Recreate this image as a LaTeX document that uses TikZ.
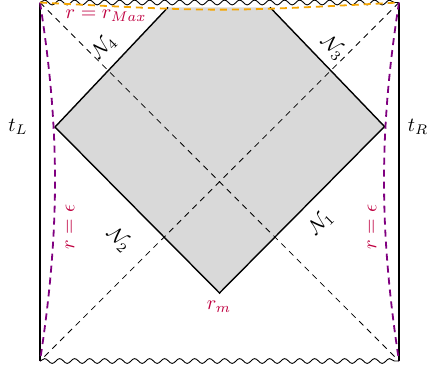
\documentclass[tikz,border=0pt]{standalone}
\usetikzlibrary{decorations.pathmorphing}
\definecolor{lblc}{rgb}{0.75,0,0.25}
\definecolor{curvc}{rgb}{0.5,0,0.5}
\definecolor{orng}{RGB}{245,165,0}
\begin{document}
\begin{tikzpicture}[x=0.5pt,y=-0.5pt,
  edge/.style={line width=0.7pt, black},
  wall/.style={line width=0.8pt, black},
  diag/.style={line width=0.4pt, dash pattern=on 3pt off 2.5pt},
  bdry/.style={line width=0.9pt, curvc, dash pattern=on 3.5pt off 2.5pt},
  topb/.style={line width=0.9pt, orng, dash pattern=on 3.5pt off 2.5pt},
  sing/.style={line width=0.45pt, decorate, decoration={snake, segment length=7.5pt, amplitude=1.2pt}},
  lbl/.style={text=lblc, inner sep=1pt},
  nlbl/.style={inner sep=1pt},
]
\useasboundingbox (0,0) rectangle (428,372);
\coordinate (TL) at (40,2.5);
\coordinate (TR) at (399,2.5);
\coordinate (BL) at (40,361);
\coordinate (BR) at (399,361);
\coordinate (L) at (55,127);
\coordinate (B) at (219.5,293);
\coordinate (R) at (384.5,126.5);
\coordinate (UL) at (168,7.3);
\coordinate (UR) at (270,7.3);
% shaded region
\fill[gray!30] (UL) -- (L) -- (B) -- (R) -- (UR) -- cycle;
% diagonals
\draw[diag] (TL) -- (BR);
\draw[diag] (TR) -- (BL);
% edges of region
\draw[edge] (UL) -- (L) -- (B) -- (R) -- (UR);
% boundaries
\draw[wall] (TL) -- (BL);
\draw[wall] (TR) -- (BR);
\draw[sing] (TL) -- (TR);
\draw[sing] (BL) -- (BR);
\draw[bdry] (TL) .. controls (60,130) and (60,230) .. (BL);
\draw[bdry] (TR) .. controls (379,130) and (379,230) .. (BR);
\draw[topb] (TL) .. controls (219.5,12) .. (TR);
% labels
\node[nlbl] (tl) at (18,127) {$t_L$};
\node[nlbl] (tr) at (418,127) {$t_R$};
\node[lbl] (rmax) at (106,16) {$r=r_{Max}$};
\node[lbl] (rm) at (219,307) {$r_m$};
\node[lbl, rotate=90] (eL) at (70,227) {$r=\epsilon$};
\node[lbl, rotate=90] (eR) at (372,227) {$r=\epsilon$};
\node[nlbl, rotate=45] (n4) at (104,47) {$\mathcal{N}_4$};
\node[nlbl, rotate=-45] (n3) at (333,48) {$\mathcal{N}_3$};
\node[nlbl, rotate=-45] (n2) at (119,240) {$\mathcal{N}_2$};
\node[nlbl, rotate=45] (n1) at (321,223) {$\mathcal{N}_1$};
\end{tikzpicture}
\end{document}
